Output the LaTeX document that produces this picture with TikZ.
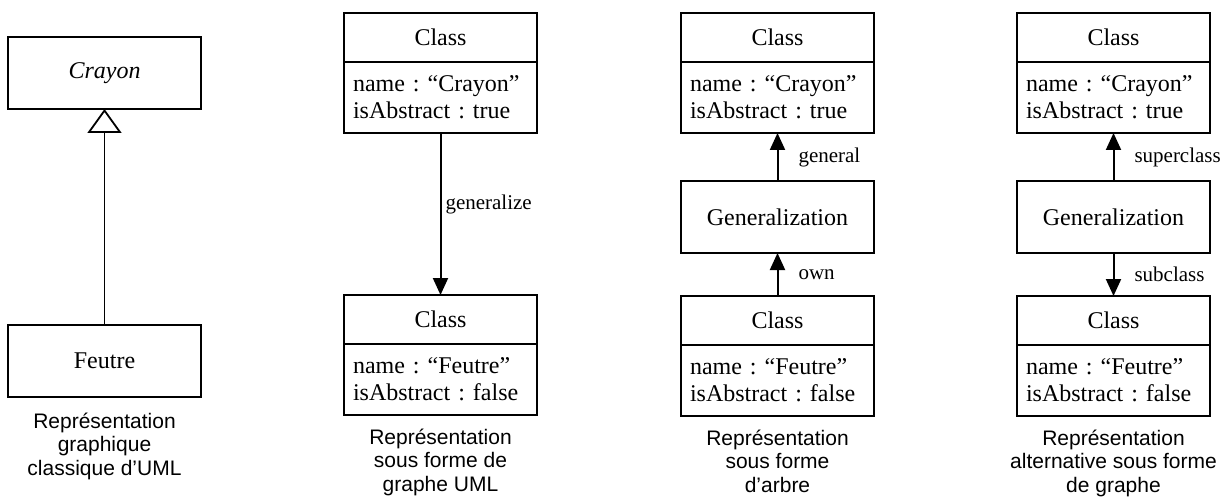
\documentclass[tikz,border=0pt]{standalone}
\usepackage{fontspec}
\setmainfont{Liberation Serif}
\newfontfamily\capfont{Liberation Sans}
\usetikzlibrary{arrows.meta,positioning}
\frenchspacing

\begin{document}
\begin{tikzpicture}[x=1pt,y=1pt]
                        \tikzstyle{box}=[draw,line width=1.8pt,outer sep=0pt,inner sep=0pt,minimum width=193pt,font=\fontsize{24}{27}\selectfont]
                        \tikzstyle{head}=[box,minimum height=49pt]
                        \tikzstyle{attr}=[box,minimum height=71pt,text width=175pt,inner xsep=9pt,align=left]
                        \tikzstyle{tall}=[box,minimum height=72pt]
                        \tikzstyle{link}=[line width=2pt,-{Triangle[width=15pt,length=17pt]}]
                        \tikzstyle{lbl}=[right,inner sep=0pt,xshift=20pt,font=\fontsize{21}{24}\selectfont]
                        \tikzstyle{caption}=[align=center,inner sep=0pt,outer sep=0pt,font=\capfont\fontsize{21}{23.5}\selectfont]
                        \useasboundingbox (0,0) rectangle (1221,-497);
                        % UML classique
                        \node[tall] (crayon) at (104.5,-73) {\textit{Crayon}};
                        \node[tall] (feutre) at (104.5,-361) {Feutre};
                        \draw[line width=1.8pt,-{Triangle[open,width=34pt,length=24pt]}] (feutre) -- (crayon);
                        \node[caption,below=16pt of feutre] (capA) {Représentation\\graphique\\classique d’UML};
                        % graphe UML
                        \node[head] (headA) at (440.5,-37.5) {Class};
                        \node[attr,below=0pt of headA] (attrA) {name : “Crayon”\\isAbstract : true};
                        \node[head] (headB) at (440.5,-319.5) {Class};
                        \node[attr,below=0pt of headB] (attrB) {name : “Feutre”\\isAbstract : false};
                        \draw[link] (attrA) -- (headB) node[lbl,xshift=-16pt,pos=.44] {generalize};
                        \node[caption,below=14pt of attrB] (capB) {Représentation\\sous forme de\\graphe UML};
                        % arbre
                        \node[head] (headC) at (777.5,-37.5) {Class};
                        \node[attr,below=0pt of headC] (attrC) {name : “Crayon”\\isAbstract : true};
                        \node[tall] (genC) at (777.5,-217) {Generalization};
                        \node[head] (headD) at (777.5,-320.5) {Class};
                        \node[attr,below=0pt of headD] (attrD) {name : “Feutre”\\isAbstract : false};
                        \draw[link] (genC) -- (attrC) node[lbl,midway] {general};
                        \draw[link] (headD) -- (genC) node[lbl,midway] {own};
                        \node[caption,below=14pt of attrD] (capC) {Représentation\\sous forme\\d’arbre};
                        % graphe alternatif
                        \node[head] (headE) at (1113.5,-37.5) {Class};
                        \node[attr,below=0pt of headE] (attrE) {name : “Crayon”\\isAbstract : true};
                        \node[tall] (genE) at (1113.5,-217) {Generalization};
                        \node[head] (headF) at (1113.5,-320.5) {Class};
                        \node[attr,below=0pt of headF] (attrF) {name : “Feutre”\\isAbstract : false};
                        \draw[link] (genE) -- (attrE) node[lbl,midway] {superclass};
                        \draw[link] (genE) -- (headF) node[lbl,midway] {subclass};
                        \node[caption,below=14pt of attrF] (capD) {Représentation\\alternative sous forme\\de graphe};
                    \end{tikzpicture}
\end{document}
